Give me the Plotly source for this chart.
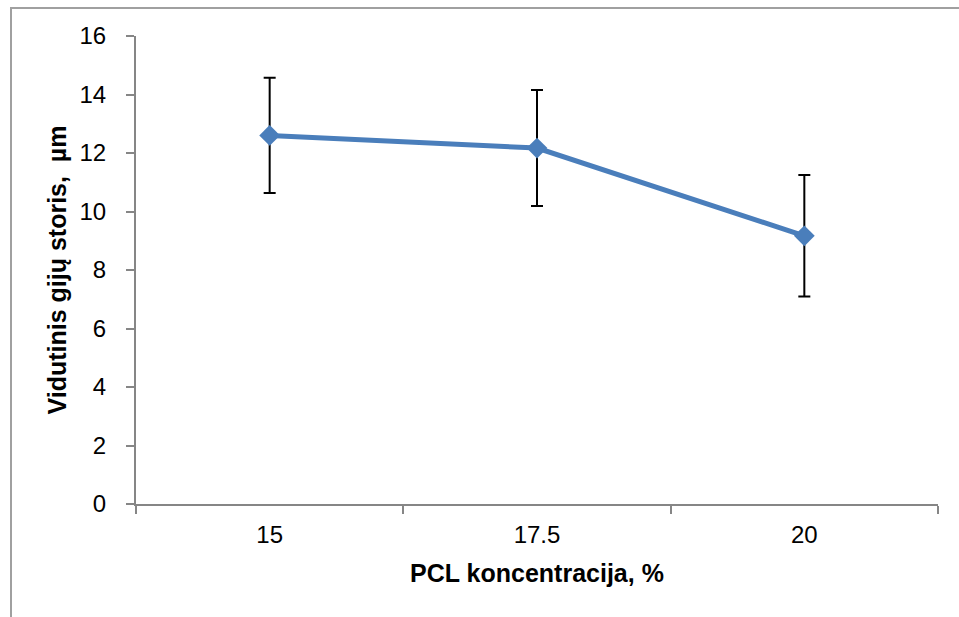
import plotly.graph_objects as go

categories = ["15", "17.5", "20"]
mean_values = [12.6, 12.17, 9.17]
error_values = [1.97, 1.98, 2.08]
y_ticks = [0, 2, 4, 6, 8, 10, 12, 14, 16]

W, H = 959, 617
L, R, T, B = 136, 21, 36, 113
pw, ph = W - L - R, H - T - B

fig = go.Figure()
fig.add_trace(go.Scatter(
    x=categories, y=mean_values, mode="lines+markers",
    line=dict(color="#4A7EBB", width=5),
    marker=dict(symbol="diamond", size=16, color="#4A7EBB"),
    error_y=dict(type="data", array=error_values, visible=True,
                 color="black", thickness=2, width=6),
    showlegend=False,
))

fig.update_layout(
    width=W, height=H,
    margin=dict(l=L, r=R, t=T, b=B, pad=0),
    paper_bgcolor="white", plot_bgcolor="white",
    font=dict(family="Liberation Sans, Arial, sans-serif", size=24, color="black"),
    xaxis=dict(
        type="category", tickson="boundaries", ticks="outside", ticklen=8,
        range=[-0.5, 2.5],
        tickcolor="#868686", tickwidth=2, showline=True, linecolor="#868686",
        linewidth=2, showgrid=False, zeroline=False,
        tickfont=dict(size=24), ticklabelstandoff=8,
        title=dict(text="<b>PCL koncentracija, %</b>", font=dict(size=25), standoff=18),
    ),
    yaxis=dict(
        range=[0, 16], tickvals=y_ticks, ticks="outside", ticklen=8,
        tickcolor="#868686", tickwidth=2, showline=True, linecolor="#868686",
        linewidth=2, showgrid=False, zeroline=False,
        tickfont=dict(size=24), ticklabelstandoff=15,
        title=dict(text="<b>Vidutinis gijų storis,  µm</b>", font=dict(size=25), standoff=6),
    ),
)

fig.add_shape(type="rect", xref="paper", yref="paper",
              x0=(11 - L) / pw, x1=1.2, y0=-0.5, y1=(H - B - 8) / ph,
              line=dict(color="#A0A0A0", width=2), fillcolor="rgba(0,0,0,0)", layer="below")

fig.write_html("out.html")
